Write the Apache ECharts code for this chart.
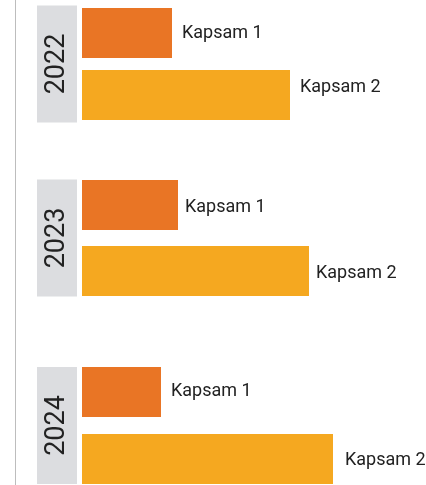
<!DOCTYPE html>
<html>
<head>
<meta charset="utf-8">
<script src="https://cdn.jsdelivr.net/npm/echarts@6/dist/echarts.min.js"></script>
<style>
  html, body { margin: 0; padding: 0; background: #fff; }
  #chart { width: 426px; height: 485px; }
</style>
</head>
<body>
<div id="chart"></div>
<script>
const years = ['2022', '2023', '2024']
const scopes = ['Kapsam 1', 'Kapsam 2']
const scope1 = [90, 96, 79]
const scope2 = [208, 227, 251]

// one grid per year, vertical placement
const gridBoxes = [
  { top: 2, height: 124 },
  { top: 172, height: 132 },
  { top: 358.5, height: 134 }
]
// small label nudges seen in the original
const labelShift = [[[0, 0], [0, -8]], [[-3, 2], [-3, 2]], [[0, -1], [2, 1]]]

const chart = echarts.init(document.getElementById('chart'))

const grids = []
const xAxes = []
const yAxes = []
const series = []

years.forEach((year, i) => {
  grids.push({
    left: 82, width: 340, top: gridBoxes[i].top, height: gridBoxes[i].height,
    outerBoundsMode: 'none', containLabel: false
  })
  xAxes.push({ type: 'value', gridIndex: i, min: 0, max: 340, show: false })
  yAxes.push({
    type: 'category',
    gridIndex: i,
    data: scopes,
    inverse: true,
    axisLine: { show: false },
    axisTick: { show: false },
    axisLabel: { show: false },
    name: '{y|' + year + '}',
    nameLocation: 'middle',
    nameRotate: 90,
    nameGap: 5,
    nameTextStyle: {
      verticalAlign: 'bottom',
      align: 'center',
      rich: {
        y: {
          fontFamily: 'Roboto',
          fontSize: 27,
          color: '#222',
          backgroundColor: '#dcdde0',
          width: 117,
          height: 40,
          lineHeight: 40,
          align: 'center'
        }
      }
    }
  })
  series.push({
    type: 'bar',
    xAxisIndex: i,
    yAxisIndex: i,
    barWidth: 50,
    silent: true,
    data: [
      { value: scope1[i], itemStyle: { color: '#e97525' }, label: { offset: labelShift[i][0] } },
      { value: scope2[i], itemStyle: { color: '#f5a820' }, label: { offset: labelShift[i][1] } }
    ],
    label: {
      show: true,
      position: 'right',
      distance: 10,
      formatter: '{b}',
      fontFamily: 'Roboto',
      fontSize: 18,
      color: '#222'
    }
  })
})

chart.setOption({
  animation: false,
  grid: grids,
  xAxis: xAxes,
  yAxis: yAxes,
  series: series,
  graphic: [{
    type: 'line',
    shape: { x1: 15.5, y1: 0, x2: 15.5, y2: 485 },
    style: { stroke: '#bdbdbd', lineWidth: 1 }
  }]
})
</script>
</body>
</html>
